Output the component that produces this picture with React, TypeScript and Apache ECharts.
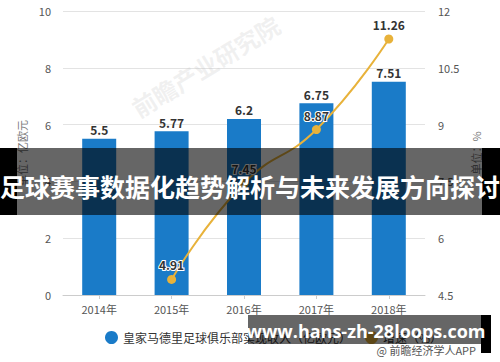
import React, { useEffect, useRef } from "react";
import * as echarts from "echarts";

const categories = ["2014年", "2015年", "2016年", "2017年", "2018年"];
const revenue = [5.5, 5.77, 6.2, 6.75, 7.51];
const growth: (number | null)[] = [null, 4.91, 7.45, 8.87, 11.26];
const leftTicks = { min: 0, max: 10, interval: 2 };
const rightTicks = { min: 4.5, max: 12, interval: 1.5 };
const seriesNames = ["皇家马德里足球俱乐部实现收入（亿欧元）", "增速（%）"];
const bannerTitle = "足球赛事数据化趋势解析与未来发展方向探讨";
const bannerUrl = "www.hans-zh-28loops.com";
const sourceText = "@ 前瞻经济学人APP";
const watermark = "前瞻产业研究院";

const FONT = "'Noto Sans CJK SC', 'Noto Sans', sans-serif";

export default function App() {
  const ref = useRef<HTMLDivElement>(null);
  useEffect(() => {
    if (!ref.current) return;
    const chart = echarts.init(ref.current, undefined, { renderer: "svg" });
    chart.setOption({
      animation: false,
      backgroundColor: "#ffffff",
      textStyle: { fontFamily: FONT },
      grid: { left: 63, right: 75, top: 11, bottom: 67 },
      legend: {
        left: 100,
        top: 326,
        icon: "circle",
        itemWidth: 13,
        itemHeight: 13,
        itemGap: 14,
        textStyle: { color: "#333", fontSize: 12, fontFamily: FONT },
        data: seriesNames,
      },
      xAxis: {
        type: "category",
        data: categories,
        axisLine: { lineStyle: { color: "#cccccc" } },
        axisTick: { show: true, alignWithLabel: true, length: 4, lineStyle: { color: "#cccccc" } },
        axisLabel: { color: "#555", fontSize: 11, margin: 8, fontFamily: FONT },
      },
      yAxis: [
        {
          type: "value",
          min: leftTicks.min,
          max: leftTicks.max,
          interval: leftTicks.interval,
          name: "单位：亿欧元",
          nameLocation: "middle",
          nameGap: 36,
          nameTextStyle: { color: "#777", fontSize: 11, fontFamily: FONT },
          axisLine: { show: false },
          axisTick: { show: false },
          axisLabel: { color: "#555", fontSize: 11, margin: 12 },
          splitLine: { lineStyle: { color: "#e3e3e3" } },
        },
        {
          type: "value",
          min: rightTicks.min,
          max: rightTicks.max,
          interval: rightTicks.interval,
          name: "单位：%",
          nameLocation: "middle",
          nameGap: 44,
          nameTextStyle: { color: "#777", fontSize: 11, fontFamily: FONT },
          axisLine: { show: false },
          axisTick: { show: false },
          axisLabel: { color: "#555", fontSize: 11, margin: 13 },
          splitLine: { show: false },
        },
      ],
      series: [
        {
          name: seriesNames[0],
          type: "bar",
          data: revenue,
          barWidth: 34,
          itemStyle: { color: "#1a7bc8" },
          label: {
            show: true,
            position: "top",
            distance: 3,
            color: "#333",
            fontWeight: "bold",
            fontSize: 12,
          },
        },
        {
          name: seriesNames[1],
          type: "line",
          yAxisIndex: 1,
          data: growth,
          smooth: true,
          symbol: "circle",
          symbolSize: 9,
          lineStyle: { color: "#e8b23a", width: 2 },
          itemStyle: { color: "#e8b23a" },
          label: {
            show: true,
            position: "top",
            distance: 4,
            color: "#333",
            fontWeight: "bold",
            fontSize: 12,
            textBorderColor: "#ffffff",
            textBorderWidth: 2,
          },
        },
      ],
      graphic: [
        {
          type: "text",
          x: 140,
          y: 120,
          rotation: 0.55,
          z: 1,
          silent: true,
          style: {
            text: watermark,
            fill: "rgba(190,190,190,0.22)",
            font: `bold 24px ${FONT}`,
            textAlign: "left",
            textVerticalAlign: "bottom",
          },
        },
        { type: "rect", z: 100, shape: { x: 0, y: 148, width: 17, height: 67 }, style: { fill: "#000" } },
        { type: "rect", z: 100, shape: { x: 482, y: 148, width: 18, height: 67 }, style: { fill: "#000" } },
        { type: "rect", z: 100, shape: { x: 17, y: 148, width: 465, height: 67 }, style: { fill: "rgba(0,0,0,0.6)" } },
        {
          type: "text",
          z: 101,
          x: 250,
          y: 186,
          style: {
            text: bannerTitle,
            fill: "#ffffff",
            font: `bold 25px ${FONT}`,
            textAlign: "center",
            textVerticalAlign: "middle",
          },
        },
        { type: "rect", z: 100, shape: { x: 481, y: 315, width: 10, height: 38 }, style: { fill: "#000" } },
        { type: "rect", z: 100, shape: { x: 248, y: 315, width: 233, height: 29 }, style: { fill: "rgba(0,0,0,0.6)" } },
        {
          type: "text",
          z: 101,
          x: 366,
          y: 331,
          style: {
            text: bannerUrl,
            fill: "#ffffff",
            font: `bold 18px 'Open Sans', 'DejaVu Sans', sans-serif`,
            textAlign: "center",
            textVerticalAlign: "middle",
          },
        },
        {
          type: "text",
          z: 102,
          x: 476,
          y: 350,
          style: {
            text: sourceText,
            fill: "#555",
            font: `11px ${FONT}`,
            textAlign: "right",
            textVerticalAlign: "middle",
          },
        },
      ],
    });
    return () => chart.dispose();
  }, []);
  return (
    <div
      ref={ref}
      style={{ position: "fixed", left: 0, top: 0, width: 500, height: 362 }}
    />
  );
}
